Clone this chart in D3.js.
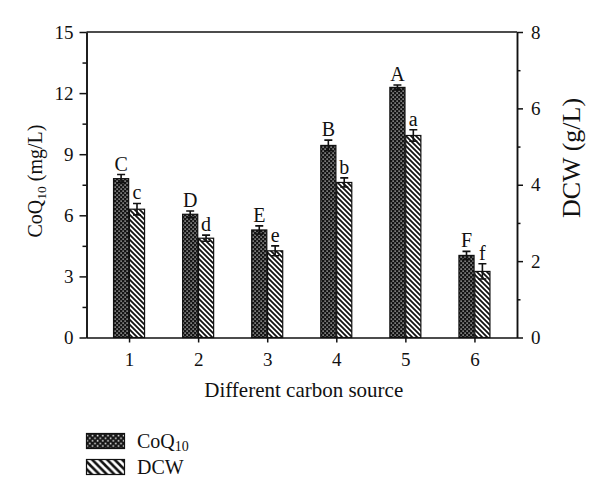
<!DOCTYPE html>
<html>
<head>
<meta charset="utf-8">
<script src="https://cdn.jsdelivr.net/npm/d3@7"></script>
<style>
  body { margin: 0; background: #fff; }
  svg { display: block; }
  text { font-family: "Liberation Serif", "DejaVu Serif", serif; fill: #111; }
</style>
</head>
<body>
<svg id="chart" width="600" height="500"></svg>
<script>
const categories = ["1", "2", "3", "4", "5", "6"];
const coq10 = [7.8, 6.05, 5.28, 9.43, 12.28, 4.03];
const coq10Err = [0.2, 0.16, 0.2, 0.26, 0.12, 0.2];
const dcw = [3.36, 2.6, 2.27, 4.06, 5.29, 1.73];
const dcwErr = [0.15, 0.08, 0.13, 0.12, 0.15, 0.2];
const coq10Letters = ["C", "D", "E", "B", "A", "F"];
const dcwLetters = ["c", "d", "e", "b", "a", "f"];
const leftTicks = [0, 3, 6, 9, 12, 15];
const leftMinor = [1.5, 4.5, 7.5, 10.5, 13.5];
const rightTicks = [0, 2, 4, 6, 8];
const rightMinor = [1, 3, 5, 7];
const xTitle = "Different carbon source";

const svg = d3.select("#chart");
const L = 86.5, R = 517, T = 32, B = 337.5;

// patterns
const defs = svg.append("defs");
function dotPattern(id, s) {
  const p = defs.append("pattern").attr("id", id).attr("patternUnits", "userSpaceOnUse")
    .attr("width", 4 * s).attr("height", 4 * s);
  p.append("rect").attr("width", 4 * s).attr("height", 4 * s).attr("fill", "#151515");
  [[0, 0], [2, 2]].forEach(([a, b]) => {
    p.append("rect").attr("x", (a + 0.5) * s).attr("y", (b + 0.5) * s)
      .attr("width", 1.2 * s).attr("height", 1.2 * s).attr("fill", "#e8e8e8");
  });
}
function stripePattern(id, w, sw) {
  const p = defs.append("pattern").attr("id", id).attr("patternUnits", "userSpaceOnUse")
    .attr("width", w).attr("height", w);
  p.append("rect").attr("width", w).attr("height", w).attr("fill", "#fff");
  p.append("path")
    .attr("d", `M${-w},${-w} L${2 * w},${2 * w} M${-w},0 L${w},${2 * w} M0,${-w} L${2 * w},${w}`)
    .attr("stroke", "#111").attr("stroke-width", sw).attr("fill", "none");
}
dotPattern("dots", 1);
dotPattern("dotsL", 1.3);
stripePattern("stripes", 5, 1.8);
stripePattern("stripesL", 7.5, 2.6);

const x = d3.scalePoint().domain(categories).range([L, R]).padding(0.616);
const sub = d3.scaleBand().domain(["CoQ10", "DCW"]).range([-15.5, 15.5]).paddingInner(0.05);
const yL = d3.scaleLinear().domain([0, 15]).range([B, T]);
const yR = d3.scaleLinear().domain([0, 8]).range([B, T]);

// bars
const series = [
  { key: "CoQ10", vals: coq10, err: coq10Err, letters: coq10Letters, y: yL, fill: "url(#dots)" },
  { key: "DCW", vals: dcw, err: dcwErr, letters: dcwLetters, y: yR, fill: "url(#stripes)" }
];
series.forEach(s => {
  const g = svg.append("g");
  const data = categories.map((c, i) => ({ c, v: s.vals[i], e: s.err[i], l: s.letters[i] }));
  g.selectAll("rect").data(data).join("rect")
    .attr("x", d => x(d.c) + sub(s.key))
    .attr("width", sub.bandwidth())
    .attr("y", d => s.y(d.v))
    .attr("height", d => s.y(0) - s.y(d.v))
    .attr("fill", s.fill).attr("stroke", "#111").attr("stroke-width", 1.2);
  const cx = d => x(d.c) + sub(s.key) + sub.bandwidth() / 2;
  g.selectAll("path.err").data(data).join("path").attr("class", "err")
    .attr("d", d => {
      const t = s.y(d.v + d.e), b = s.y(d.v - d.e), c = cx(d);
      return `M${c},${t} L${c},${b} M${c - 4},${t} L${c + 4},${t} M${c - 4},${b} L${c + 4},${b}`;
    })
    .attr("stroke", "#111").attr("stroke-width", 1.6).attr("fill", "none");
  g.selectAll("text").data(data).join("text")
    .attr("x", cx).attr("y", d => s.y(d.v + d.e) - 4)
    .attr("text-anchor", "middle").attr("font-size", 20).text(d => d.l);
});

// axes
function styleAxis(g) {
  g.selectAll("path, line").attr("stroke", "#111").attr("stroke-width", 1.5);
  g.selectAll("text").attr("font-size", 19).attr("fill", "#111")
    .attr("font-family", "Liberation Serif, DejaVu Serif, serif");
}
svg.append("g").attr("transform", `translate(${L},0)`)
  .call(d3.axisLeft(yL).tickValues(leftTicks).tickSize(7).tickSizeOuter(0).tickPadding(6))
  .call(styleAxis);
svg.append("g").attr("transform", `translate(${L},0)`)
  .call(d3.axisLeft(yL).tickValues(leftMinor).tickSize(4).tickSizeOuter(0).tickFormat(""))
  .call(styleAxis);
svg.append("g").attr("transform", `translate(${R},0)`)
  .call(d3.axisRight(yR).tickValues(rightTicks).tickSize(6).tickSizeOuter(0).tickPadding(8))
  .call(styleAxis);
svg.append("g").attr("transform", `translate(${R},0)`)
  .call(d3.axisRight(yR).tickValues(rightMinor).tickSize(3.5).tickSizeOuter(0).tickFormat(""))
  .call(styleAxis);
svg.append("g").attr("transform", `translate(0,${B})`)
  .call(d3.axisBottom(x).tickSize(5).tickSizeOuter(0).tickPadding(10))
  .call(styleAxis)
  .call(g => g.select(".domain").attr("d", `M${L},0.5H${R}`));
svg.append("line").attr("x1", L).attr("x2", R).attr("y1", T).attr("y2", T)
  .attr("stroke", "#111").attr("stroke-width", 1.5);

// titles
svg.append("text").attr("x", (L + R) / 2 + 2).attr("y", 397).attr("text-anchor", "middle")
  .attr("font-size", 21).text(xTitle);
const yl = svg.append("text").attr("transform", `translate(42,181) rotate(-90)`)
  .attr("text-anchor", "middle").attr("font-size", 20);
yl.append("tspan").text("CoQ");
yl.append("tspan").attr("font-size", 13.5).attr("dy", 4).text("10");
yl.append("tspan").attr("dy", -4).text(" (mg/L)");
svg.append("text").attr("transform", `translate(580,158) rotate(-90)`)
  .attr("text-anchor", "middle").attr("font-size", 26).text("DCW (g/L)");

// legend
const legend = [
  { label: "CoQ", subscript: "10", fill: "url(#dotsL)", y: 433 },
  { label: "DCW", subscript: "", fill: "url(#stripesL)", y: 459 }
];
legend.forEach(d => {
  svg.append("rect").attr("x", 86.5).attr("y", d.y + 0.5).attr("width", 38).attr("height", 15)
    .attr("fill", d.fill).attr("stroke", "#111").attr("stroke-width", 1.2);
  const t = svg.append("text").attr("x", 137).attr("y", d.y + 15).attr("font-size", 20);
  t.append("tspan").text(d.label);
  if (d.subscript) t.append("tspan").attr("font-size", 14).attr("dy", 3).text(d.subscript);
});
</script>
</body>
</html>
